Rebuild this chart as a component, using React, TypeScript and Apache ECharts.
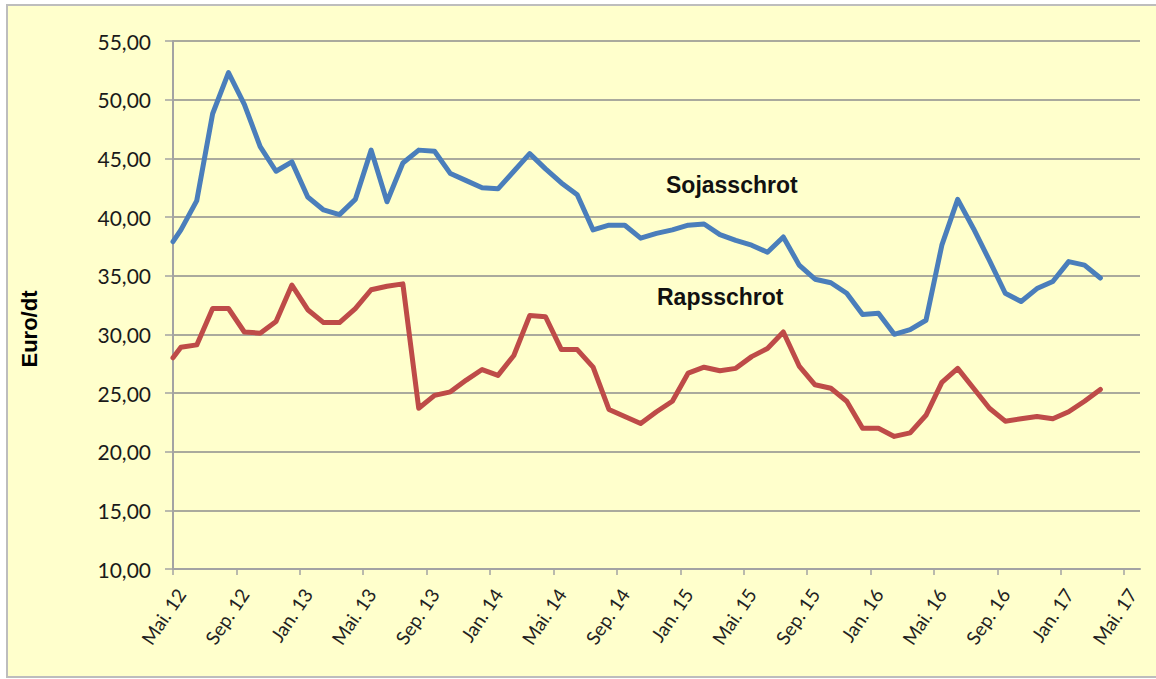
import React, { useEffect, useRef } from 'react';
import * as echarts from 'echarts';

// Month names (German) for the tick labels
const monthNames = ['Jan.', 'Feb.', 'Mrz.', 'Apr.', 'Mai.', 'Jun.', 'Jul.', 'Aug.', 'Sep.', 'Okt.', 'Nov.', 'Dez.'];
// Tick positions in months since Mai 2012
const tickMonths = [0, 4, 8, 12, 16, 20, 24, 28, 32, 36, 40, 44, 48, 52, 56, 60];

// Position of each observation in months since Mai 2012
const obsMonths = [
  0, 0.5, 1.5, 2.5, 3.5, 4.5, 5.5, 6.5, 7.5, 8.5, 9.5, 10.5, 11.5, 12.5, 13.5, 14.5, 15.5, 16.5, 17.5, 18.5,
  19.5, 20.5, 21.5, 22.5, 23.5, 24.5, 25.5, 26.5, 27.5, 28.5, 29.5, 30.5, 31.5, 32.5, 33.5, 34.5, 35.5, 36.5,
  37.5, 38.5, 39.5, 40.5, 41.5, 42.5, 43.5, 44.5, 45.5, 46.5, 47.5, 48.5, 49.5, 50.5, 51.5, 52.5, 53.5, 54.5,
  55.5, 56.5, 57.5, 58.5,
];

// Sojasschrot, Euro/dt
const soja = [
  37.9, 38.9, 41.4, 48.8, 52.3, 49.6, 46.0, 43.9, 44.7, 41.7, 40.6, 40.2, 41.5, 45.7, 41.3, 44.6, 45.7, 45.6, 43.7, 43.1,
  42.5, 42.4, 43.9, 45.4, 44.1, 42.9, 41.9, 38.9, 39.3, 39.3, 38.2, 38.6, 38.9, 39.3, 39.4, 38.5, 38.0, 37.6,
  37.0, 38.3, 35.9, 34.7, 34.4, 33.5, 31.7, 31.8, 30.0, 30.4, 31.2, 37.6, 41.5, 39.0, 36.3, 33.5, 32.8, 33.9,
  34.5, 36.2, 35.9, 34.8,
];

// Rapsschrot, Euro/dt
const raps = [
  28.0, 28.9, 29.1, 32.2, 32.2, 30.2, 30.1, 31.1, 34.2, 32.1, 31.0, 31.0, 32.2, 33.8, 34.1, 34.3, 23.7, 24.8, 25.1, 26.1,
  27.0, 26.5, 28.2, 31.6, 31.5, 28.7, 28.7, 27.2, 23.6, 23.0, 22.4, 23.4, 24.3, 26.7, 27.2, 26.9, 27.1, 28.1,
  28.8, 30.2, 27.3, 25.7, 25.4, 24.3, 22.0, 22.0, 21.3, 21.6, 23.1, 25.9, 27.1, 25.4, 23.7, 22.6, 22.8, 23.0,
  22.8, 23.4, 24.3, 25.3,
];

const yMin = 10;
const yMax = 55;
const yStep = 5;

function monthLabel(v: number): string {
  const total = 4 + Math.round(v);
  const m = ((total % 12) + 12) % 12;
  const yr = 12 + Math.floor(total / 12);
  return monthNames[m] + ' ' + yr;
}

export default function App() {
  const ref = useRef<HTMLDivElement>(null);

  useEffect(() => {
    if (!ref.current) return;
    const chart = echarts.init(ref.current, null, { renderer: 'svg' });
    const axisGray = '#A3A3A3';
    const gridGray = '#8E8E8E';
    chart.setOption({
      animation: false,
      backgroundColor: '#FFFFFF',
      grid: { left: 173, top: 41, width: 967, height: 528, containLabel: false },
      xAxis: {
        type: 'value',
        min: 0,
        max: 61,
        interval: 4,
        splitLine: { show: false },
        axisLine: { show: true, lineStyle: { color: axisGray, width: 2 } },
        axisTick: {
          show: true,
          inside: false,
          length: 6,
          customValues: tickMonths,
          lineStyle: { color: axisGray, width: 1.5 },
        },
        axisLabel: {
          customValues: tickMonths,
          rotate: 56,
          margin: 16,
          verticalAlign: 'top',
          formatter: (v: number) => monthLabel(v),
          fontFamily: 'Lato, "Open Sans", sans-serif',
          fontSize: 19,
          color: '#222222',
        },
      },
      yAxis: {
        type: 'value',
        min: yMin,
        max: yMax,
        interval: yStep,
        axisLine: { show: true, lineStyle: { color: axisGray, width: 2 } },
        axisTick: { show: true, inside: false, length: 8, lineStyle: { color: axisGray, width: 1.5 } },
        splitLine: { show: true, lineStyle: { color: gridGray, width: 1.5 } },
        axisLabel: {
          margin: 22,
          formatter: (v: number) => v.toFixed(2).replace('.', ','),
          fontFamily: 'Lato, "Open Sans", sans-serif',
          fontSize: 21,
          color: '#1a1a1a',
        },
      },
      series: [
        {
          name: 'Sojasschrot',
          type: 'line',
          data: obsMonths.map((m, i) => [m, soja[i]]),
          showSymbol: false,
          symbol: 'none',
          lineStyle: { color: '#4A7EBB', width: 5, join: 'round', cap: 'round' },
          itemStyle: { color: '#4A7EBB' },
          z: 3,
        },
        {
          name: 'Rapsschrot',
          type: 'line',
          data: obsMonths.map((m, i) => [m, raps[i]]),
          showSymbol: false,
          symbol: 'none',
          lineStyle: { color: '#BE4B48', width: 5, join: 'round', cap: 'round' },
          itemStyle: { color: '#BE4B48' },
          z: 3,
        },
      ],
      graphic: [
        {
          type: 'rect',
          z: -10,
          silent: true,
          shape: { x: 7, y: 5, width: 1160, height: 672 },
          style: { fill: '#FFFFCC', stroke: '#BDBDBD', lineWidth: 2 },
        },
        {
          type: 'text',
          x: 29,
          y: 329,
          rotation: Math.PI / 2,
          style: {
            text: 'Euro/dt',
            align: 'center',
            verticalAlign: 'middle',
            fontFamily: '"Liberation Sans", Arial, sans-serif',
            fontWeight: 'bold',
            fontSize: 22,
            fill: '#000000',
          },
        },
        {
          type: 'text',
          x: 666,
          y: 185,
          style: {
            text: 'Sojasschrot',
            align: 'left',
            verticalAlign: 'middle',
            fontFamily: '"Liberation Sans", Arial, sans-serif',
            fontWeight: 'bold',
            fontSize: 23,
            fill: '#111111',
          },
        },
        {
          type: 'text',
          x: 657,
          y: 297,
          style: {
            text: 'Rapsschrot',
            align: 'left',
            verticalAlign: 'middle',
            fontFamily: '"Liberation Sans", Arial, sans-serif',
            fontWeight: 'bold',
            fontSize: 23,
            fill: '#111111',
          },
        },
      ],
    });
    return () => {
      chart.dispose();
    };
  }, []);

  return (
    <div
      ref={ref}
      style={{ position: 'fixed', left: 0, top: 0, width: 1156, height: 679 }}
    />
  );
}
